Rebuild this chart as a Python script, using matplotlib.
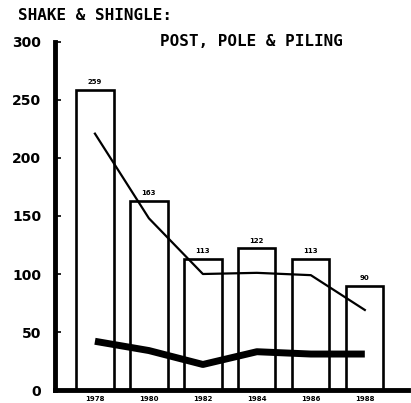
import numpy as np
import matplotlib
matplotlib.use('Agg')
import matplotlib.pyplot as plt

# data
years = ['1978', '1980', '1982', '1984', '1986', '1988']
shake_shingle = [259, 163, 113, 122, 113, 90]     # bars
post_pole_thin = [221, 148, 100, 101, 99, 69]      # thin line
post_pole_thick = [42, 34, 22, 33, 31, 31]         # thick line

plt.rcParams['font.family'] = 'DejaVu Sans'
plt.rcParams['font.weight'] = 'bold'

fig = plt.figure(figsize=(4.11, 4.03), dpi=100)
ax = fig.add_axes([55 / 411, 13 / 403, (408 - 55) / 411, (390 - 42) / 403])

x = np.arange(len(years))

# bars (outlined, white fill)
ax.bar(x, shake_shingle, width=0.69, facecolor='white', edgecolor='black',
       linewidth=1.9, zorder=2)
for xi, v in zip(x, shake_shingle):
    ax.text(xi, v + 4, str(v), ha='center', va='bottom', fontsize=5,
            fontweight='bold', zorder=4)

# lines
ax.plot(x, post_pole_thin, color='black', linewidth=1.6, zorder=3)
ax.plot(x, post_pole_thick, color='black', linewidth=5, zorder=3,
        solid_capstyle='butt')

ax.set_xlim(-0.74, 5.8)
ax.set_ylim(0, 300)
ax.set_yticks([0, 50, 100, 150, 200, 250, 300])
ax.set_xticks(x)
ax.set_xticklabels(years, fontsize=5, fontweight='bold')

for side in ['top', 'right']:
    ax.spines[side].set_visible(False)
ax.spines['left'].set_linewidth(3.5)
ax.spines['bottom'].set_linewidth(3.5)

ax.tick_params(axis='y', direction='in', length=4, width=1.2, pad=10,
               labelsize=10)
ax.tick_params(axis='x', direction='in', length=3, width=1.2, pad=4)
for lab in ax.get_yticklabels():
    lab.set_fontweight('bold')

fig.text(18 / 411, 1 - 16 / 403, 'SHAKE & SHINGLE:', fontsize=11.5,
         family='DejaVu Sans Mono', fontweight='bold', ha='left', va='center')
fig.text(160 / 411, 1 - 42 / 403, 'POST, POLE & PILING', fontsize=11.5,
         family='DejaVu Sans Mono', fontweight='bold', ha='left', va='center')

fig.savefig('out.png', dpi=100)
